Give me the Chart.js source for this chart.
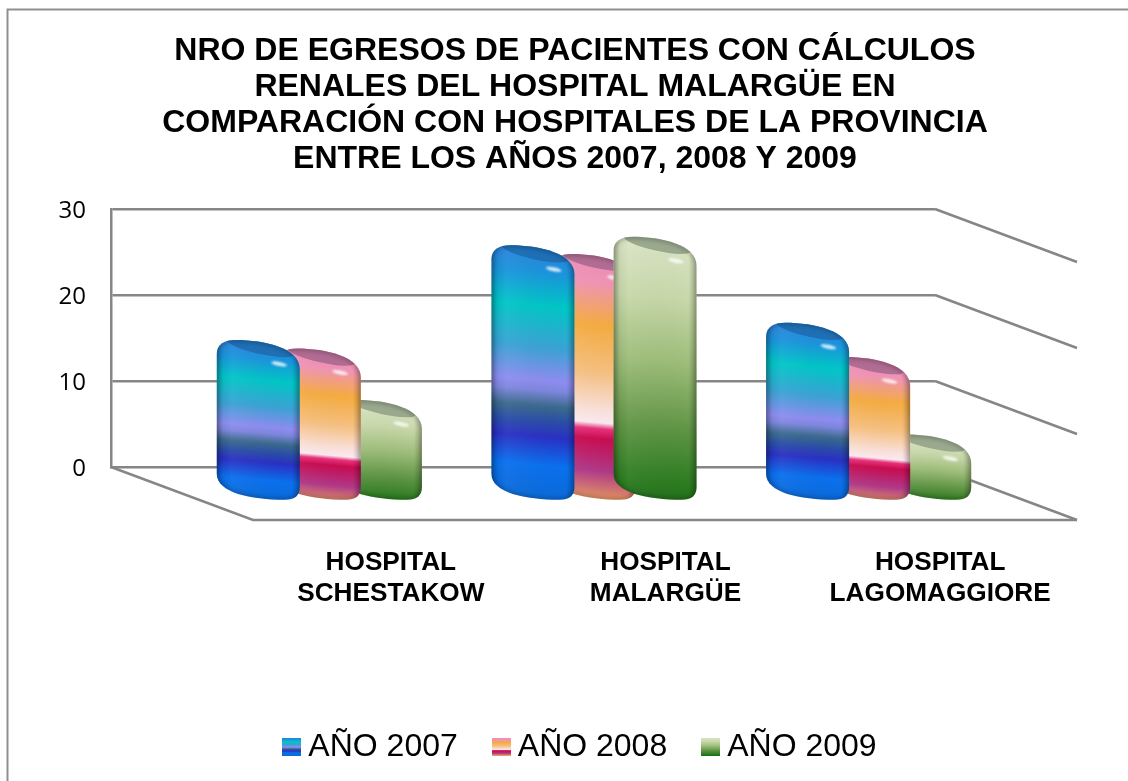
<!DOCTYPE html>
<html>
<head>
<meta charset="utf-8">
<title>Egresos</title>
<script src="https://cdn.jsdelivr.net/npm/chart.js@4"></script>
<style>
html, body { margin: 0; padding: 0; background: #fff; }
#wrap { width: 1128px; height: 781px; }
</style>
</head>
<body>
<div id="wrap"><canvas id="chart" width="1128" height="781"></canvas></div>
<script>
const categories = [['HOSPITAL', 'SCHESTAKOW'], ['HOSPITAL', 'MALARGÜE'], ['HOSPITAL', 'LAGOMAGGIORE']];
const seriesNames = ['AÑO 2007', 'AÑO 2008', 'AÑO 2009'];
const egresos2007 = [16, 27, 18];
const egresos2008 = [15, 26, 14];
const egresos2009 = [9, 28, 5];
const titleLines = [
    'NRO DE EGRESOS DE PACIENTES CON CÁLCULOS',
    'RENALES DEL HOSPITAL MALARGÜE EN',
    'COMPARACIÓN CON HOSPITALES DE LA PROVINCIA',
    'ENTRE LOS AÑOS 2007, 2008 Y 2009'
];

const GRAY = '#868686';

// depth of the fake 3D box, px
const DEPTH_X = 142, DEPTH_Y = 53;
// bars stand halfway along the floor
const BAR_X = 71, BAR_TOP = 10.5, BAR_BOTTOM = 34;

const skins = [
    {
        cap: '#1f6fb5',
        stops: [[0, '#2a84dc'], [0.08, '#1a94dc'], [0.21, '#00c6c6'], [0.37, '#3aa2d4'], [0.5, '#8e8cf0'], [0.54, '#7c86dc'], [0.6, '#3a6a8c'], [0.66, '#2a4ca8'], [0.72, '#2a30c4'], [0.83, '#0a70ee'], [1, '#0a68d0']]
    },
    {
        cap: '#b06c92',
        stops: [[0, '#f08cb8'], [0.09, '#f094b4'], [0.26, '#f5ac40'], [0.45, '#f6c080'], [0.6, '#fae0d8'], [0.655, '#fbeaf0'], [0.68, '#e8307a'], [0.72, '#c80c50'], [0.85, '#b03888'], [0.97, '#e89a60'], [1, '#eca060']]
    },
    {
        cap: '#9aa88e',
        stops: [[0, '#d8e4c4'], [0.2, '#c8d8aa'], [0.45, '#9cbc78'], [0.7, '#5e9444'], [0.9, '#2c7c20'], [1, '#1e6a18']]
    }
];

function cylinderPath(ctx, x0, w, top, bottom) {
    const k = w / 83;
    ctx.beginPath();
    ctx.moveTo(x0, top + 14);
    ctx.bezierCurveTo(x0, top + 4, x0 + 8 * k, top, x0 + 19 * k, top);
    ctx.bezierCurveTo(x0 + 48 * k, top, x0 + 83 * k, top + 8, x0 + 83 * k, top + 29);
    ctx.lineTo(x0 + w, bottom - 13);
    ctx.bezierCurveTo(x0 + w, bottom - 4, x0 + 78 * k, bottom, x0 + 68 * k, bottom);
    ctx.bezierCurveTo(x0 + 34 * k, bottom, x0, bottom - 7, x0, bottom - 26);
    ctx.closePath();
}

function drawCylinder(ctx, bar, skin) {
    const w = bar.width * 1.36;
    const x0 = bar.x + BAR_X - w / 2;
    const top = bar.y + BAR_TOP;
    const bottom = bar.base + BAR_BOTTOM;
    const h = bottom - top;
    const slope = 0.09;

    ctx.save();
    cylinderPath(ctx, x0, w, top, bottom);
    ctx.save();
    ctx.clip();

    // colour bands, tilted like the cap
    const cx = x0 + w / 2;
    const g = ctx.createLinearGradient(cx, top + 6, cx - slope * h, top + 6 + h);
    skin.stops.forEach(s => g.addColorStop(s[0], s[1]));
    ctx.fillStyle = g;
    ctx.fillRect(x0 - 2, top - 2, w + 4, h + 4);

    // left and right shade
    const side = ctx.createLinearGradient(x0, 0, x0 + w, 0);
    side.addColorStop(0, 'rgba(0,0,0,0.22)');
    side.addColorStop(0.08, 'rgba(0,0,0,0.04)');
    side.addColorStop(0.18, 'rgba(255,255,255,0.04)');
    side.addColorStop(0.9, 'rgba(0,0,0,0)');
    side.addColorStop(1, 'rgba(0,0,0,0.2)');
    ctx.fillStyle = side;
    ctx.fillRect(x0, top, w, h);

    // cap
    ctx.fillStyle = skin.cap;
    ctx.filter = 'blur(0.6px)';
    ctx.beginPath();
    ctx.ellipse(cx + 2, top + 7.5, 0.41 * w, 6.5, 0.22, 0, Math.PI * 2);
    ctx.fill();

    // highlight
    ctx.filter = 'blur(1.2px)';
    ctx.fillStyle = 'rgba(255,255,255,0.8)';
    ctx.beginPath();
    ctx.ellipse(x0 + 0.75 * w, top + 24, 8, 2, 0.2, 0, Math.PI * 2);
    ctx.fill();

    // soft inner rim
    ctx.filter = 'blur(2px)';
    ctx.strokeStyle = 'rgba(0,0,0,0.3)';
    ctx.lineWidth = 3;
    cylinderPath(ctx, x0, w, top, bottom);
    ctx.stroke();
    ctx.restore();
    ctx.restore();
}

function swatch(skin) {
    const c = document.createElement('canvas');
    c.width = 19;
    c.height = 18;
    const x = c.getContext('2d');
    const g = x.createLinearGradient(0, 0, 0, 18);
    skin.stops.forEach(s => g.addColorStop(s[0], s[1]));
    x.fillStyle = g;
    x.fillRect(0, 0, 19, 18);
    return c;
}

// page frame, floor and side lines of the box
const boxPlugin = {
    id: 'box',
    afterLayout(chart) {
        // legend is a bit right of the title in the original
        chart.legend.left += 9;
        chart.legend.right += 9;
    },
    beforeDatasetsDraw(chart) {
        const ctx = chart.ctx;
        const y = chart.scales.y;
        const a = chart.chartArea;
        ctx.save();
        ctx.strokeStyle = '#8f8f8f';
        ctx.lineWidth = 2;
        ctx.beginPath();
        ctx.moveTo(7.5, 781);
        ctx.lineTo(7.5, 9.5);
        ctx.lineTo(1128, 9.5);
        ctx.stroke();

        ctx.strokeStyle = GRAY;
        ctx.lineWidth = 2.5;
        y.ticks.forEach(t => {
            const py = y.getPixelForValue(t.value);
            ctx.beginPath();
            ctx.moveTo(a.right, py);
            ctx.lineTo(a.right + DEPTH_X, py + DEPTH_Y);
            ctx.stroke();
        });
        const py0 = y.getPixelForValue(0);
        ctx.beginPath();
        ctx.moveTo(a.left, py0);
        ctx.lineTo(a.left + DEPTH_X, py0 + DEPTH_Y);
        ctx.lineTo(a.right + DEPTH_X, py0 + DEPTH_Y);
        ctx.stroke();
        ctx.restore();
    },
    afterDatasetsDraw(chart) {
        const ctx = chart.ctx;
        const x = chart.scales.x;
        // shortest first, so the taller one overlaps its neighbour
        categories.forEach((cat, i) => {
            const bars = chart.data.datasets.map((d, k) => ({
                el: chart.getDatasetMeta(k).data[i],
                v: d.data[i],
                skin: skins[k]
            }));
            bars.sort((p, q) => p.v - q.v);
            bars.forEach(b => drawCylinder(ctx, b.el, b.skin));
        });
        // category labels sit on the front edge of the floor
        ctx.save();
        ctx.fillStyle = '#000';
        ctx.font = 'bold 26.2px "Liberation Sans"';
        ctx.textAlign = 'center';
        ctx.textBaseline = 'middle';
        categories.forEach((cat, i) => {
            const px = x.getPixelForTick(i) + DEPTH_X + 0.5;
            cat.forEach((line, n) => ctx.fillText(line, px, 563 + n * 30.5));
        });
        ctx.restore();
    }
};

const data = {
    labels: categories,
    datasets: [egresos2007, egresos2008, egresos2009].map((vals, k) => ({
        label: seriesNames[k],
        data: vals,
        backgroundColor: 'rgba(0,0,0,0)',
        pointStyle: swatch(skins[k]),
        categoryPercentage: 0.667,
        barPercentage: 1
    }))
};

new Chart(document.getElementById('chart'), {
    type: 'bar',
    data: data,
    plugins: [boxPlugin],
    options: {
        responsive: false,
        animation: false,
        layout: { padding: { left: 22, right: 0, top: 33, bottom: 8 } },
        plugins: {
            tooltip: { enabled: false },
            title: {
                display: true,
                text: titleLines,
                color: '#000',
                font: { family: '"Liberation Sans"', size: 32, weight: 'bold', lineHeight: 1.125 },
                padding: { top: 0, bottom: 32 }
            },
            legend: {
                position: 'bottom',
                labels: {
                    usePointStyle: true,
                    pointStyleWidth: 1,
                    boxHeight: 18,
                    padding: 43,
                    color: '#000',
                    font: { family: '"Liberation Sans"', size: 32 },
                    generateLabels(chart) {
                        return chart.data.datasets.map((d, k) => ({
                            text: d.label,
                            pointStyle: d.pointStyle,
                            datasetIndex: k,
                            fontColor: '#000'
                        }));
                    }
                }
            }
        },
        scales: {
            x: {
                grid: { display: false },
                border: { display: false },
                ticks: { display: false },
                afterFit(s) { s.height = 221; }
            },
            y: {
                min: 0,
                max: 30,
                ticks: {
                    stepSize: 10,
                    padding: 25,
                    labelOffset: 2,
                    color: '#000',
                    font: { family: '"Open Sans"', size: 24 }
                },
                grid: { color: GRAY, lineWidth: 2.5, drawTicks: false },
                border: { color: GRAY, width: 2.5 },
                afterFit(s) { s.width = 89; }
            },
            // keeps the room on the right for the depth of the box
            side: {
                position: 'right',
                display: true,
                grid: { display: false },
                border: { display: false },
                ticks: { display: false },
                afterFit(s) { s.width = 193; }
            }
        }
    }
});
</script>
</body>
</html>
